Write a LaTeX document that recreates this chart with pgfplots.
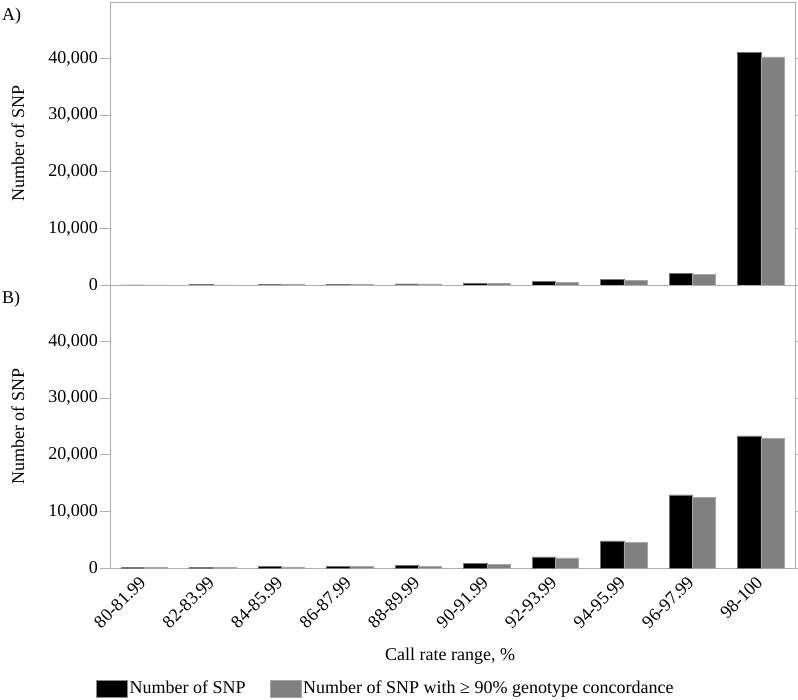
\documentclass[border=0pt]{standalone}
\usepackage{fontspec}
\setmainfont{Liberation Serif}
\usepackage{pgfplots}
\pgfplotsset{compat=1.18}
\definecolor{barblack}{HTML}{000000}
\definecolor{bargray}{HTML}{808080}
\definecolor{framegray}{HTML}{AFAFAF}
\begin{document}
\fontsize{18bp}{21.6bp}\selectfont
\begin{tikzpicture}
\useasboundingbox (0,0) rectangle (798bp,-700bp);
\pgfplotsset{
  panel/.style={
    scale only axis, width=685bp, height=283bp,
    xmin=-0.5, xmax=9.5, ymin=0, ymax=50000,
    ytick={0,10000,20000,30000,40000},
    xtick={0,...,9},
    ybar=0pt, bar width=0.336,
    axis line style={draw=framegray, line width=0.8bp},
    tick align=outside,
    major tick length=10bp,
    ytick style={draw=framegray, line width=0.8bp},
    xtick style={draw=none},
    /pgf/number format/1000 sep={,},
    /pgf/number format/assume math mode=true,
    scaled y ticks=false,
    yticklabel style={inner sep=2bp},
    ylabel={Number of SNP},
    ylabel style={at={(axis description cs:-0.1344,0.5)}, anchor=center},
    clip=false,
  },
  blackbar/.style={fill=barblack, draw=black!55, line width=0.5bp, bar shift=-0.168},
  graybar/.style={fill=bargray, draw=black!35, line width=0.5bp, bar shift=0.168},
}
% Panel A
\begin{axis}[panel, at={(110bp,-285bp)}, anchor=south west, xticklabels={}]
\addplot[blackbar] coordinates {(0,30) (1,50) (2,80) (3,150) (4,200) (5,350) (6,590) (7,1000) (8,2070) (9,41100)};
\addplot[graybar] coordinates {(0,20) (1,40) (2,70) (3,130) (4,180) (5,300) (6,480) (7,830) (8,1890) (9,40300)};
\end{axis}
% Panel B
\begin{axis}[panel, at={(110bp,-568bp)}, anchor=south west,
  xticklabels={80-81.99,82-83.99,84-85.99,86-87.99,88-89.99,90-91.99,92-93.99,94-95.99,96-97.99,98-100},
  xticklabel style={rotate=45, anchor=east, inner sep=2bp},
  xlabel={Call rate range, \%},
  xlabel style={at={(axis description cs:0.4964,-0.311)}, anchor=center},
  legend columns=2,
  legend style={at={(axis description cs:-0.0204,-0.4258)}, anchor=west, draw=none, fill=none,
    inner sep=0pt, column sep=0pt,
    /tikz/every even column/.append style={column sep=22bp}},
  legend cell align=left,
]
\addplot[blackbar, legend image code/.code={\filldraw[fill=barblack, draw=black!45, line width=0.5bp] (0bp,-8.5bp) rectangle (31bp,8.5bp);}] coordinates {(0,100) (1,150) (2,250) (3,350) (4,400) (5,760) (6,1950) (7,4800) (8,12900) (9,23340)};
\addlegendentry{Number of SNP}
\addplot[graybar, legend image code/.code={\filldraw[fill=bargray, draw=black!35, line width=0.5bp] (0bp,-8.5bp) rectangle (31bp,8.5bp);}] coordinates {(0,80) (1,120) (2,220) (3,300) (4,350) (5,640) (6,1780) (7,4550) (8,12500) (9,22860)};
\addlegendentry{Number of SNP with ≥ 90\% genotype concordance}
\end{axis}
\node[anchor=west, inner sep=0pt] at (2bp,-16bp) {A)};
\node[anchor=west, inner sep=0pt] at (2bp,-299bp) {B)};
\end{tikzpicture}
\end{document}
